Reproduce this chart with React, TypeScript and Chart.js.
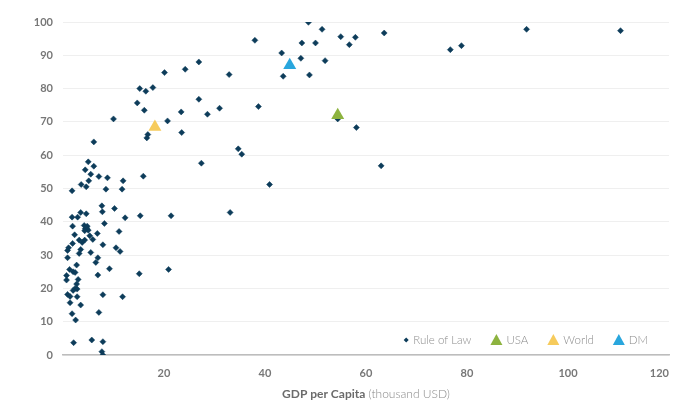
import React, { useEffect, useRef } from "react";
import { Chart, registerables } from "chart.js";

Chart.register(...registerables);

// Rule of Law index vs GDP per capita (thousand USD)
const ruleOfLawGdp: number[] = [
  7.7, 7.8, 10.2, 3.5, 4.6, 1.8, 2.9, 12.3, 15.3, 21.4, 33.1, 8.2, 1.9, 4.2, 4.8, 4.4, 4.7, 4.3, 5.0, 11.1,
  2.3, 6.8, 5.3, 5.9, 3.2, 3.8, 4.3, 1.9, 7.9, 1.1, 0.9, 3.5, 10.5, 11.3, 3.2, 5.5, 0.9, 6.9, 6.5, 2.7,
  9.2, 1.3, 2.0, 2.4, 20.9, 15.1, 6.9, 0.7, 0.7, 3.0, 2.7, 2.4, 2.0, 2.8, 0.9, 1.4, 2.8, 7.9, 11.8, 1.4,
  3.5, 7.1, 1.8, 2.5, 2.1, 5.7, 7.9, 7.7, 7.9,
  1.8, 3.6, 4.6, 5.1, 5.5, 4.4, 5.0, 6.1, 6.1, 7.1, 8.8, 8.5, 11.9, 11.7, 10.0, 15.9, 15.2, 16.4, 17.8, 14.7,
  16.1, 16.8, 16.6, 20.1, 20.7, 24.2, 26.9, 23.4, 23.5, 26.9, 28.6, 31.0, 27.4, 32.9, 34.7, 35.4, 38.0, 38.7, 40.9, 43.3,
  43.6, 47.3, 47.1, 48.6, 48.8, 50.0, 51.3, 51.9, 54.4, 55.0, 56.7, 57.9, 63.6, 76.7, 78.9, 91.8, 110.4, 58.1, 63.0,
];
const ruleOfLawScore: number[] = [
  44.8, 43.0, 44.0, 42.8, 42.4, 41.4, 41.4, 41.2, 41.8, 41.8, 42.8, 39.5, 38.7, 38.9, 38.7, 37.9, 38.1, 37.3, 37.5, 37.1,
  36.1, 36.5, 35.8, 34.7, 34.5, 33.8, 34.5, 33.5, 33.1, 32.2, 31.4, 31.7, 32.2, 31.1, 30.5, 30.8, 29.2, 29.2, 27.8, 27.0,
  25.9, 25.7, 25.0, 24.8, 25.7, 24.4, 24.0, 23.9, 22.5, 22.7, 21.3, 20.0, 19.4, 19.8, 18.2, 17.6, 17.5, 18.1, 17.5, 15.7,
  15.0, 12.8, 12.4, 10.5, 3.7, 4.5, 4.0, 1.0, 0.0,
  49.3, 51.2, 50.5, 52.3, 54.3, 55.6, 58.0, 56.7, 64.0, 53.6, 53.2, 49.8, 52.3, 49.8, 70.9, 53.7, 80.0, 79.2, 80.3, 75.7,
  73.5, 66.2, 65.2, 84.8, 70.3, 85.8, 88.0, 73.0, 66.8, 76.8, 72.3, 74.1, 57.6, 84.2, 61.9, 60.3, 94.5, 74.6, 51.2, 90.7,
  83.7, 93.7, 89.1, 99.9, 84.1, 93.7, 97.8, 88.4, 70.9, 95.6, 93.2, 95.4, 96.7, 91.7, 92.9, 97.8, 97.4, 68.3, 56.8,
];

const highlightLabels: string[] = ["USA", "World", "DM"];
const highlightGdp: number[] = [54.4, 18.2, 44.9];
const highlightScore: number[] = [72.0, 68.5, 87.0];
const highlightColors: string[] = ["#8db33f", "#f6cb5c", "#29a6dd"];

const seriesLabel = "Rule of Law";
const seriesColor = "#0d3c5a";

const xTicks: number[] = [0, 20, 40, 60, 80, 100, 120];
const yTicks: number[] = [0, 10, 20, 30, 40, 50, 60, 70, 80, 90, 100];

const xTitleBold = "GDP per Capita";
const xTitleRest = " (thousand USD)";

const FONT = "Lato, 'Noto Sans', sans-serif";

const overlayPlugin = {
  id: "overlay",
  afterDraw(chart: any) {
    const ctx = chart.ctx as CanvasRenderingContext2D;
    const area = chart.chartArea;
    ctx.save();
    // x axis title
    ctx.textBaseline = "middle";
    ctx.font = `bold 12px ${FONT}`;
    const wb = ctx.measureText(xTitleBold).width;
    ctx.font = `300 12px ${FONT}`;
    const wr = ctx.measureText(xTitleRest).width;
    const cx = (area.left + area.right) / 2;
    const ty = 394;
    const tx = cx - (wb + wr) / 2;
    ctx.textAlign = "left";
    ctx.font = `bold 12px ${FONT}`;
    ctx.fillStyle = "#6b6b6b";
    ctx.fillText(xTitleBold, tx, ty);
    ctx.font = `300 12px ${FONT}`;
    ctx.fillStyle = "#8a8a8a";
    ctx.fillText(xTitleRest, tx + wb, ty);

    // legend inside chart area, bottom right
    const items: { label: string; color: string; tri: boolean }[] = [
      { label: seriesLabel, color: seriesColor, tri: false },
      ...highlightLabels.map((l, i) => ({ label: l, color: highlightColors[i], tri: true })),
    ];
    ctx.font = `300 11.5px ${FONT}`;
    const gapMarker = 4;
    const gapItem = 19;
    const widths = items.map((it) => (it.tri ? 12 : 6) + gapMarker + ctx.measureText(it.label).width);
    const total = widths.reduce((a, b) => a + b, 0) + gapItem * (items.length - 1);
    let lx = 648 - total;
    const ly = 340;
    items.forEach((it, i) => {
      const mw = it.tri ? 12 : 6;
      const mx = lx + mw / 2;
      ctx.fillStyle = it.color;
      ctx.beginPath();
      if (it.tri) {
        ctx.moveTo(mx, ly - 6);
        ctx.lineTo(mx + 6, ly + 5);
        ctx.lineTo(mx - 6, ly + 5);
      } else {
        ctx.moveTo(mx, ly - 2.5);
        ctx.lineTo(mx + 2.5, ly);
        ctx.lineTo(mx, ly + 2.5);
        ctx.lineTo(mx - 2.5, ly);
      }
      ctx.closePath();
      ctx.fill();
      ctx.fillStyle = "#8c8c8c";
      ctx.textAlign = "left";
      ctx.fillText(it.label, lx + mw + gapMarker, ly);
      lx += widths[i] + gapItem;
    });
    ctx.restore();
  },
};

export default function App() {
  const canvasRef = useRef<HTMLCanvasElement | null>(null);

  useEffect(() => {
    document.body.style.margin = "0";
    const canvas = canvasRef.current;
    if (!canvas) return;
    const ruleData = ruleOfLawGdp.map((x, i) => ({ x, y: ruleOfLawScore[i] }));
    const chart = new Chart(canvas, {
      type: "scatter",
      data: {
        datasets: [
          {
            label: seriesLabel,
            data: ruleData,
            pointStyle: "rectRot",
            pointRadius: 3,
            pointBackgroundColor: seriesColor,
            pointBorderColor: seriesColor,
            pointBorderWidth: 0.5,
            order: 1,
          },
          ...highlightLabels.map((label, i) => ({
            label,
            data: [{ x: highlightGdp[i], y: highlightScore[i] }],
            pointStyle: "triangle" as const,
            pointRadius: 7.5,
            pointBackgroundColor: highlightColors[i],
            pointBorderColor: highlightColors[i],
            pointBorderWidth: 0,
            order: 0,
          })),
        ],
      },
      options: {
        animation: false,
        responsive: true,
        maintainAspectRatio: false,
        layout: { padding: { top: 22, right: 20, bottom: 0, left: 0 } },
        plugins: {
          legend: { display: false },
          tooltip: { enabled: false },
          title: { display: false },
        },
        scales: {
          x: {
            type: "linear",
            min: xTicks[0],
            max: xTicks[xTicks.length - 1],
            afterFit(scale: any) {
              scale.height = 55;
            },
            afterBuildTicks(scale: any) {
              scale.ticks = xTicks.map((v) => ({ value: v }));
            },
            grid: { display: false, drawTicks: false },
            border: { display: true, color: "#bdbdbd", width: 1.5 },
            ticks: {
              align: "inner",
              padding: 12,
              color: "#777777",
              font: { family: FONT, size: 11, weight: "bold" },
              callback: (v: any) => (Number(v) === 0 ? "" : String(v)),
            },
          },
          y: {
            type: "linear",
            min: yTicks[0],
            max: yTicks[yTicks.length - 1],
            afterFit(scale: any) {
              scale.width = 63;
            },
            afterBuildTicks(scale: any) {
              scale.ticks = yTicks.map((v) => ({ value: v }));
            },
            grid: { color: "#efefef", lineWidth: 1, drawTicks: false },
            border: { display: false },
            ticks: {
              padding: 10,
              color: "#777777",
              font: { family: FONT, size: 11, weight: "bold" },
            },
          },
        },
      },
      plugins: [overlayPlugin],
    });
    return () => chart.destroy();
  }, []);

  return (
    <div style={{ width: 689, height: 410, position: "relative", background: "#ffffff" }}>
      <canvas ref={canvasRef} />
    </div>
  );
}
